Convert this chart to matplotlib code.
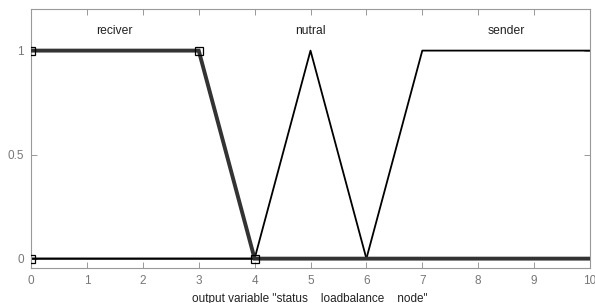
import matplotlib
matplotlib.use("Agg")
import matplotlib.pyplot as plt

plt.rcParams['font.family'] = ['Liberation Sans', 'DejaVu Sans']

x_rec = [0, 3, 4, 10]
y_rec = [1, 1, 0, 0]
x_nut = [0, 4, 5, 6, 10]
y_nut = [0, 0, 1, 0, 0]
x_snd = [0, 6, 7, 10]
y_snd = [0, 0, 1, 1]
x_markers = [0, 0, 3, 4]
y_markers = [0, 1, 1, 0]
mf_names = ["reciver", "nutral", "sender"]
mf_label_x = [1.5, 5.0, 8.5]
xticks = list(range(0, 11))
yticks = [0, 0.5, 1]
ytick_labels = ["0", "0.5", "1"]

fig = plt.figure(figsize=(5.95, 3.03), dpi=100)
ax = fig.add_axes([31/595, 1 - 268/303, (590-31)/595, (268-9)/303])

ax.plot(x_nut, y_nut, color='black', lw=1.3, zorder=2)
ax.plot(x_snd, y_snd, color='black', lw=1.3, zorder=2)
ax.plot(x_rec, y_rec, color='#333333', lw=2.8, zorder=3, solid_joinstyle='miter')
ax.plot(x_markers, y_markers, linestyle='none', marker='s', markersize=6,
        markerfacecolor='none', markeredgecolor='black', markeredgewidth=0.9, zorder=4)

for name, xp in zip(mf_names, mf_label_x):
    ax.text(xp, 1.095, name, ha='center', va='center', fontsize=8.7, color='#222222')

ax.set_xlim(0, 10)
ax.set_ylim(-0.045, 1.2)
ax.set_xticks(xticks)
ax.set_xticklabels([str(t) for t in xticks])
ax.set_yticks(yticks)
ax.set_yticklabels(ytick_labels)
ax.tick_params(direction='in', top=True, right=True, length=4, width=0.6,
               color='#888888', labelcolor='#777777', labelsize=8.5, pad=5)
for s in ax.spines.values():
    s.set_color('#999999')
    s.set_linewidth(0.8)

fig.text(310/595, 1 - 299/303, 'output variable "status__loadbalance__node"',
         ha='center', va='center', fontsize=8.5, color='#222222')

fig.savefig('out.png', dpi=100)
